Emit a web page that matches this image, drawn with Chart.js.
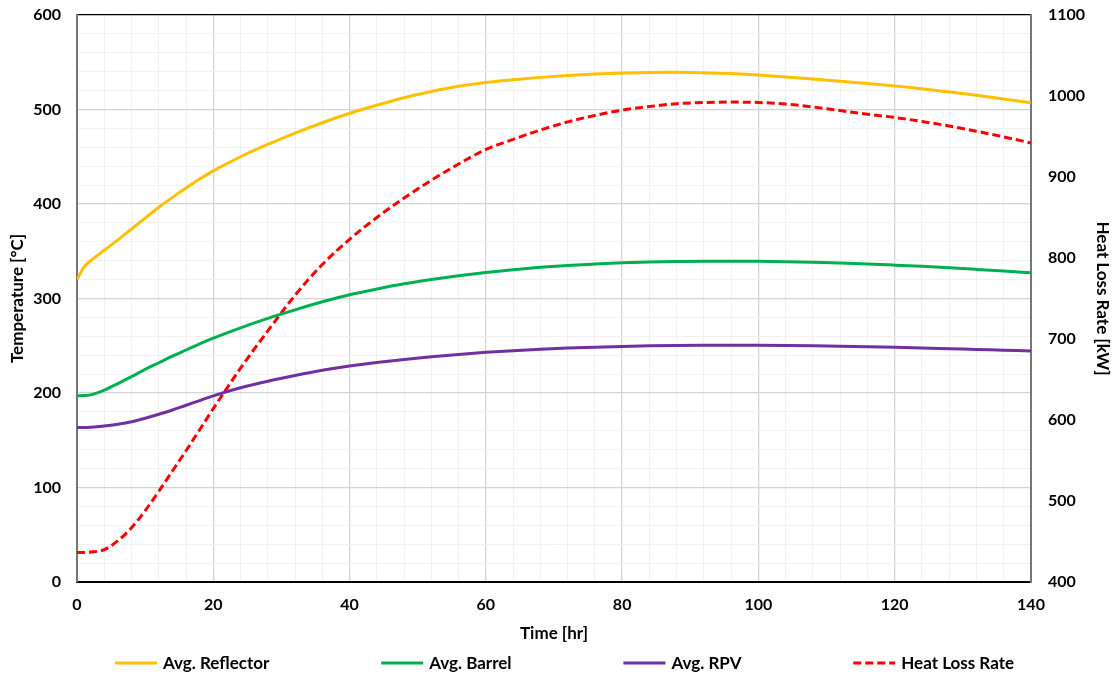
<!DOCTYPE html>
<html>
<head>
<meta charset="utf-8">
<script src="https://cdn.jsdelivr.net/npm/chart.js@4.4.1/dist/chart.umd.min.js"></script>
<style>
  html, body { margin: 0; padding: 0; background: #fff; }
  #wrap { width: 1114px; height: 676px; }
</style>
</head>
<body>
<div id="wrap"><canvas id="c" width="1114" height="676"></canvas></div>
<script>
// ---- Data ----
const timeHr = [0, 1, 2, 4, 6, 8, 10, 12, 14, 16, 18, 20, 24, 28, 32, 36, 40, 44, 48, 52, 56, 60, 64, 68, 72, 76, 80, 84, 88, 92, 96, 100, 104, 108, 112, 116, 120, 124, 128, 132, 136, 140];

const avgReflector = [320, 333, 340, 351, 362, 373.5, 385, 396.5, 407, 417, 426.5, 435, 450, 463, 475, 486, 496, 504.5, 512.5, 519, 524.5, 528.5, 531.5, 534, 536, 537.5, 538.5, 539.2, 539.3, 539, 538, 536.5, 534.5, 532.3, 530, 527.5, 525, 522, 518.5, 515, 511, 507];

const avgBarrel = [197.2, 197.3, 198, 203, 210, 217.3, 225, 232, 239, 245.5, 252, 258, 269, 279, 288, 296.5, 304, 310, 315.5, 320, 324, 327.5, 330.5, 333, 335, 336.5, 337.8, 338.7, 339.2, 339.5, 339.5, 339.3, 338.9, 338.3, 337.5, 336.5, 335.3, 334, 332.5, 330.8, 329, 327.3];

const avgRPV = [163.5, 163.5, 163.7, 165, 167, 169.6, 173.3, 177.5, 182, 187, 192, 197, 205.5, 212.5, 218.5, 224, 228.6, 232.3, 235.5, 238.3, 240.8, 243, 244.8, 246.3, 247.5, 248.5, 249.3, 249.9, 250.3, 250.5, 250.5, 250.4, 250.2, 249.9, 249.5, 249, 248.4, 247.7, 246.9, 246.1, 245.3, 244.5];

const heatLossRate = [436.5, 436.5, 437, 440, 451, 467, 488, 512, 537, 562, 588, 614, 664, 710, 754, 792, 823, 850, 874, 896, 916, 934, 946.5, 958, 968, 976, 982.5, 987, 990.5, 992, 992.5, 992, 990, 986.5, 982, 977.5, 973.5, 968.5, 963, 956.5, 949.5, 942];

const seriesLabels = ['Avg. Reflector', 'Avg. Barrel', 'Avg. RPV', 'Heat Loss Rate'];

const xTicks = { min: 0, max: 140, major: 20, minor: 4 };
const yTicks = { min: 0, max: 600, major: 100, minor: 20 };
const y2Ticks = { min: 400, max: 1100, step: 100 };

// ---- Build chart ----
const FONT = 'Lato, "Open Sans", "Liberation Sans", sans-serif';
const pts = (arr) => arr.map((v, i) => ({ x: timeHr[i], y: v }));

const legendPlugin = {
  id: 'bottomLegend',
  afterDraw(chart) {
    const ctx = chart.ctx;
    const ds = chart.data.datasets;
    ctx.save();
    ctx.font = 'bold 17px ' + FONT;
    const lineLen = 42, gapTxt = 6;
    const widths = ds.map(d => lineLen + gapTxt + ctx.measureText(d.label).width);
    const startX = 115, endX = 1014;
    const gap = (endX - startX - widths.reduce((a, b) => a + b, 0)) / (ds.length - 1);
    let x = startX;
    const y = 663;
    ds.forEach((d, i) => {
      ctx.beginPath();
      ctx.setLineDash(d.borderDash || []);
      ctx.strokeStyle = d.borderColor;
      ctx.lineWidth = 3;
      ctx.moveTo(x, y);
      ctx.lineTo(x + lineLen, y);
      ctx.stroke();
      ctx.setLineDash([]);
      ctx.fillStyle = '#000';
      ctx.textBaseline = 'middle';
      ctx.textAlign = 'left';
      ctx.fillText(d.label, x + lineLen + gapTxt, y + 1);
      x += widths[i] + gap;
    });
    ctx.restore();
  }
};

const fixV = (w) => (s) => { s.width = w; s.paddingTop = 0; s.paddingBottom = 0; };

new Chart(document.getElementById('c'), {
  type: 'line',
  data: {
    datasets: [
      { label: seriesLabels[0], data: pts(avgReflector), borderColor: '#FFC000', backgroundColor: '#FFC000', yAxisID: 'y' },
      { label: seriesLabels[1], data: pts(avgBarrel), borderColor: '#00B050', backgroundColor: '#00B050', yAxisID: 'y' },
      { label: seriesLabels[2], data: pts(avgRPV), borderColor: '#7030A0', backgroundColor: '#7030A0', yAxisID: 'y' },
      { label: seriesLabels[3], data: pts(heatLossRate), borderColor: '#FF0000', backgroundColor: '#FF0000', borderDash: [8, 4], yAxisID: 'y2' }
    ]
  },
  options: {
    responsive: false,
    animation: false,
    devicePixelRatio: 1,
    layout: { padding: { top: 15, bottom: 33, left: 0, right: 0 } },
    elements: {
      point: { radius: 0 },
      line: { borderWidth: 3, cubicInterpolationMode: 'monotone', fill: false }
    },
    plugins: { legend: { display: false }, tooltip: { enabled: false } },
    scales: {
      x: {
        type: 'linear',
        min: xTicks.min, max: xTicks.max,
        afterFit: (s) => { s.height = 61; },
        ticks: {
          stepSize: xTicks.minor, autoSkip: false, maxRotation: 0,
          callback: (v) => (v % xTicks.major === 0 ? String(v) : ''),
          font: { family: FONT, size: 16, weight: 'bold' }, color: '#000', padding: 13
        },
        grid: {
          drawTicks: false,
          color: (c) => (c.tick.value === xTicks.max ? '#767676' : (c.tick.value % xTicks.major === 0 ? '#d4d4d4' : '#f0f0f0')),
          lineWidth: (c) => (c.tick.value % xTicks.major === 0 ? 1.3 : 1)
        },
        border: { color: '#000', width: 2 },
        title: { display: true, text: 'Time [hr]', font: { family: FONT, size: 17, weight: 'bold' }, color: '#000', padding: { top: 0, bottom: -1 } }
      },
      y: {
        position: 'left',
        min: yTicks.min, max: yTicks.max,
        afterFit: fixV(77),
        ticks: {
          stepSize: yTicks.minor, autoSkip: false,
          callback: (v) => (v % yTicks.major === 0 ? String(v) : ''),
          font: { family: FONT, size: 16, weight: 'bold' }, color: '#000', padding: 16
        },
        grid: {
          drawTicks: false,
          color: (c) => (c.tick.value === yTicks.max ? '#000' : (c.tick.value % yTicks.major === 0 ? '#d4d4d4' : '#f0f0f0')),
          lineWidth: (c) => (c.tick.value % yTicks.major === 0 ? 1.3 : 1)
        },
        border: { color: '#767676', width: 2 },
        title: { display: true, text: 'Temperature [°C]', font: { family: FONT, size: 17, weight: 'bold' }, color: '#000', padding: { top: 7, bottom: 0 } }
      },
      y2: {
        position: 'right',
        min: y2Ticks.min, max: y2Ticks.max,
        afterFit: fixV(83),
        ticks: {
          stepSize: y2Ticks.step,
          callback: (v) => String(v),
          font: { family: FONT, size: 16, weight: 'bold' }, color: '#000', padding: 17
        },
        grid: { display: false, drawTicks: false },
        border: { color: '#767676', width: 2 },
        title: { display: true, text: 'Heat Loss Rate [kW]', font: { family: FONT, size: 17, weight: 'bold' }, color: '#000', padding: { top: 1, bottom: 0 } }
      }
    }
  },
  plugins: [legendPlugin]
});
</script>
</body>
</html>
